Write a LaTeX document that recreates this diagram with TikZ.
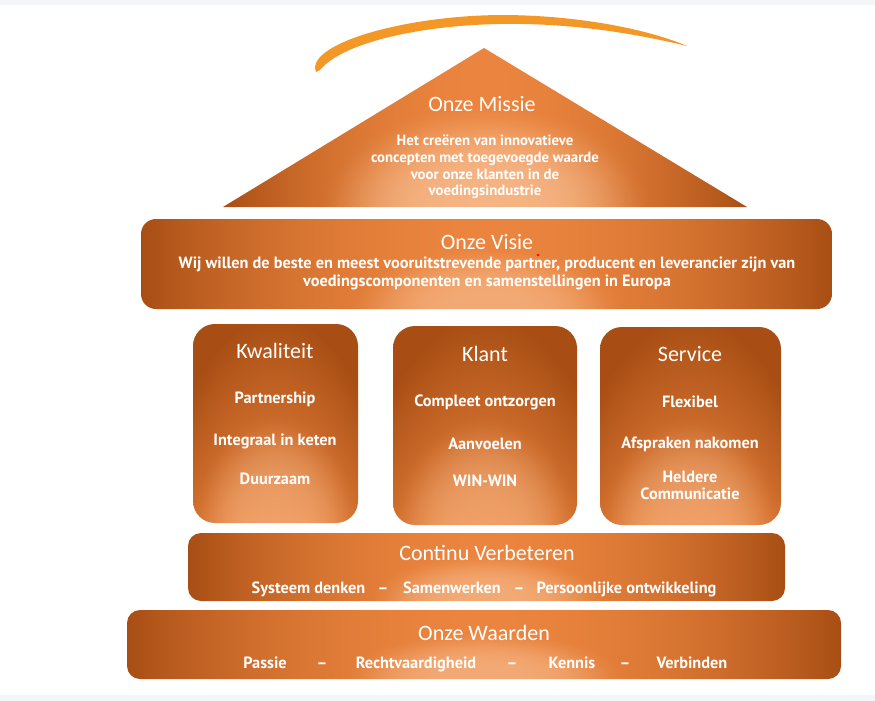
\documentclass[tikz,border=0pt]{standalone}
\usepackage{fontspec}
\newfontfamily\titlefont{Carlito}
\newfontfamily\bodyfont{PT Sans}
\definecolor{brn}{RGB}{168,78,20}
\definecolor{org}{RGB}{234,132,62}
\definecolor{swoosh}{RGB}{243,152,38}
\definecolor{strip}{RGB}{242,246,249}
% #1 name, #2 horizontal darkening, #3 vertical darkening, #4 glow x-radius, #5 glow y-radius, #6 glow strength
\newcommand\mkshading[6]{%
\pgfdeclarefunctionalshading{#1}{\pgfpoint{-50bp}{-50bp}}{\pgfpoint{50bp}{50bp}}{}{
2 mul exch 2 mul exch
dup 50 add 100 div #3 mul
exch 50 add #5 div dup mul
3 -1 roll
dup 50 div dup mul #2 mul
exch #4 div dup mul
4 -1 roll
3 -1 roll add
dup 1 gt {pop 1} if
3 1 roll add
1 exch sub dup 0 lt {pop 0} if
dup dup mul exch 2 mul 3 exch sub mul #6 mul
1 index -0.259 mul 0.918 add dup 0.980 exch sub 2 index mul add 3 1 roll
1 index -0.212 mul 0.518 add dup 0.784 exch sub 2 index mul add 3 1 roll
1 index -0.165 mul 0.243 add dup 0.627 exch sub 2 index mul add 3 1 roll
pop pop
}}
\mkshading{roofsh}{1}{0}{32}{65}{0.7}
\mkshading{bandsh}{1}{0}{20}{70}{0.55}
\mkshading{pillarsh}{0.35}{0.95}{50}{55}{0.42}
\tikzset{
  band/.style={shade, shading=bandsh, rounded corners=13pt, inner sep=0pt},
  pillar/.style={shade, shading=pillarsh, rounded corners=22pt, inner sep=0pt, minimum height=199pt},
  ttl/.style={text=white, font=\titlefont\fontsize{22}{26}\selectfont, inner sep=0pt},
  bdy/.style={text=white, font=\bodyfont\bfseries\fontsize{16.3}{18}\selectfont, inner sep=0pt, align=center},
  bdyb/.style={bdy, anchor=base},
}
\begin{document}
\begin{tikzpicture}[x=1pt,y=-1pt]
\useasboundingbox (0,0) rectangle (875,701);
\fill[white] (0,0) rectangle (875,701);
\fill[strip] (0,0) rectangle (875,5);
\fill[strip] (0,695) rectangle (875,701);

% swoosh
\fill[swoosh] (316,72) .. controls (305,45) and (400,16) .. (500,15)
  .. controls (580,15) and (650,30) .. (687,46)
  .. controls (620,30) and (560,23) .. (500,24)
  .. controls (430,25) and (345,40) .. (320,70) -- cycle;

% roof
\shade[shading=roofsh] (484,48) -- (747,207) -- (223,207) -- cycle;
\node[ttl] (missie) at (482,104) {Onze Missie};
\node[bdy, font=\bodyfont\bfseries\fontsize{14.8}{16.7}\selectfont] (missietxt) at (485,167)
  {Het creëren van innovatieve\\concepten met toegevoegde waarde\\voor onze klanten in de\\voedingsindustrie};

% visie
\node[band, rounded corners=15pt, minimum width=691pt, minimum height=90pt] (visiebox) at (486.5,264) {};
\node[ttl] (visie) at (487,242) {Onze Visie};
\node[bdy] (visietxt) at (487,273) {Wij willen de beste en meest vooruitstrevende partner, producent en leverancier zijn van\\voedingscomponenten en samenstellingen in Europa};
\fill[red] (538,255) circle (1.3pt);

% pillars
\node[pillar, minimum width=165pt] (kbox) at (275.5,423.5) {};
\node[pillar, minimum width=184pt] (klbox) at (485,425.5) {};
\node[pillar, minimum width=181pt, minimum height=198pt] (sbox) at (690.5,426) {};

\node[ttl] (kw) at (275,351) {Kwaliteit};
\node[bdy] (kw1) at (275,399) {Partnership};
\node[bdy] (kw2) at (275,441) {Integraal in keten};
\node[bdy] (kw3) at (275,479) {Duurzaam};

\node[ttl] (kl) at (485,354) {Klant};
\node[bdy] (kl1) at (485,402) {Compleet ontzorgen};
\node[bdy] (kl2) at (485,444) {Aanvoelen};
\node[bdy] (kl3) at (485,481) {WIN-WIN};

\node[ttl] (sv) at (690,354) {Service};
\node[bdy] (sv1) at (690,402) {Flexibel};
\node[bdy] (sv2) at (690,444) {Afspraken nakomen};
\node[bdy, font=\bodyfont\bfseries\fontsize{16.3}{17}\selectfont] (sv3) at (690,485.5) {Heldere\\Communicatie};

% continu
\node[band, minimum width=597pt, minimum height=68pt] (cbox) at (486.5,567) {};
\node[ttl] (cv) at (487,553) {Continu Verbeteren};
\node[bdyb] (c1) at (308.5,593.5) {Systeem denken};
\node[bdyb] (cd1) at (383,593.5) {–};
\node[bdyb] (c2) at (452,593.5) {Samenwerken};
\node[bdyb] (cd2) at (519,593.5) {–};
\node[bdyb] (c3) at (626.5,593.5) {Persoonlijke ontwikkeling};

% waarden
\node[band, minimum width=714pt, minimum height=69pt] (wbox) at (484,644.5) {};
\node[ttl] (wd) at (484,633) {Onze Waarden};
\node[bdyb] (w1) at (265,668.5) {Passie};
\node[bdyb] (d1) at (322,668.5) {–};
\node[bdyb] (w2) at (416,668.5) {Rechtvaardigheid};
\node[bdyb] (d2) at (512,668.5) {–};
\node[bdyb] (w3) at (572,668.5) {Kennis};
\node[bdyb] (d3) at (625,668.5) {–};
\node[bdyb] (w4) at (692,668.5) {Verbinden};
\end{tikzpicture}
\end{document}
